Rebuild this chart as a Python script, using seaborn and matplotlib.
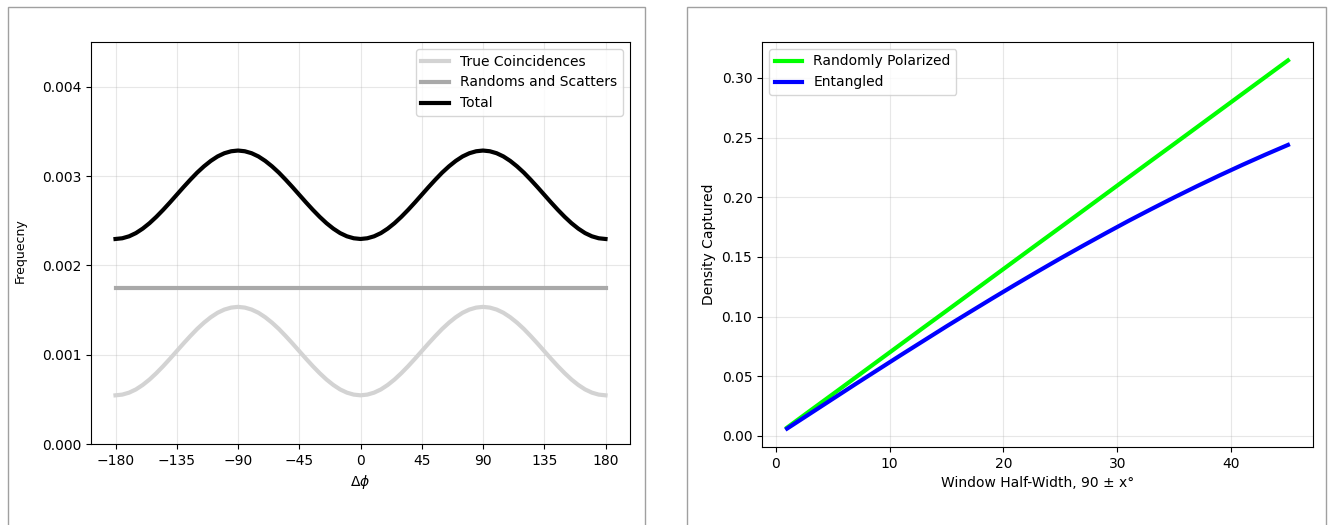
import matplotlib
matplotlib.use("Agg")
import matplotlib.pyplot as plt
import seaborn as sns
import numpy as np

# ---- left panel data (every 5 degrees) ----
dphi = list(range(-180, 181, 5))
true_coinc = [
    0.000545, 0.000553, 0.000575, 0.000611, 0.000661, 0.000722, 0.000793, 0.000871, 0.000954, 0.001040,
    0.001126, 0.001209, 0.001288, 0.001358, 0.001419, 0.001469, 0.001505, 0.001527, 0.001535,
    0.001527, 0.001505, 0.001469, 0.001419, 0.001358, 0.001288, 0.001209, 0.001126, 0.001040,
    0.000954, 0.000871, 0.000793, 0.000722, 0.000661, 0.000611, 0.000575, 0.000553, 0.000545,
    0.000553, 0.000575, 0.000611, 0.000661, 0.000722, 0.000793, 0.000871, 0.000954, 0.001040,
    0.001126, 0.001209, 0.001288, 0.001358, 0.001419, 0.001469, 0.001505, 0.001527, 0.001535,
    0.001527, 0.001505, 0.001469, 0.001419, 0.001358, 0.001288, 0.001209, 0.001126, 0.001040,
    0.000954, 0.000871, 0.000793, 0.000722, 0.000661, 0.000611, 0.000575, 0.000553, 0.000545]
randoms = [0.00175] * len(dphi)
total = [
    0.002295, 0.002303, 0.002325, 0.002361, 0.002411, 0.002472, 0.002543, 0.002621, 0.002704, 0.002790,
    0.002876, 0.002959, 0.003038, 0.003108, 0.003169, 0.003219, 0.003255, 0.003277, 0.003285,
    0.003277, 0.003255, 0.003219, 0.003169, 0.003108, 0.003038, 0.002959, 0.002876, 0.002790,
    0.002704, 0.002621, 0.002543, 0.002472, 0.002411, 0.002361, 0.002325, 0.002303, 0.002295,
    0.002303, 0.002325, 0.002361, 0.002411, 0.002472, 0.002543, 0.002621, 0.002704, 0.002790,
    0.002876, 0.002959, 0.003038, 0.003108, 0.003169, 0.003219, 0.003255, 0.003277, 0.003285,
    0.003277, 0.003255, 0.003219, 0.003169, 0.003108, 0.003038, 0.002959, 0.002876, 0.002790,
    0.002704, 0.002621, 0.002543, 0.002472, 0.002411, 0.002361, 0.002325, 0.002303, 0.002295]

# ---- right panel data ----
half_width = [1, 3, 5, 7, 9, 11, 13, 15, 17, 19, 21, 23,
              25, 27, 29, 31, 33, 35, 37, 39, 41, 43, 45]
random_pol = [0.0070, 0.0210, 0.0349, 0.0489, 0.0629, 0.0769, 0.0909, 0.1048, 0.1188, 0.1328, 0.1468, 0.1608,
              0.1747, 0.1887, 0.2027, 0.2167, 0.2307, 0.2446, 0.2586, 0.2726, 0.2866, 0.3006, 0.3146]
entangled = [0.0062, 0.0186, 0.0310, 0.0434, 0.0556, 0.0678, 0.0798, 0.0918, 0.1035, 0.1151, 0.1265, 0.1377,
             0.1487, 0.1594, 0.1699, 0.1802, 0.1901, 0.1998, 0.2092, 0.2183, 0.2271, 0.2356, 0.2438]

fig = plt.figure(figsize=(13.33, 5.25), dpi=100)

# panel frames
for x0, x1 in [(8, 645), (687, 1326)]:
    fig.add_artist(plt.Rectangle((x0 / 1333, -0.1), (x1 - x0) / 1333, 1.1 - 7.5 / 525,
                                 transform=fig.transFigure, fill=False,
                                 edgecolor='#a0a0a0', lw=1))

# 왼쪽: 위상차 분포
ax1 = fig.add_axes([91 / 1333, 81 / 525, 539 / 1333, 402 / 525])
sns.lineplot(x=dphi, y=true_coinc, ax=ax1, color='lightgray', lw=3, label='True Coincidences')
sns.lineplot(x=dphi, y=randoms, ax=ax1, color='darkgray', lw=3, label='Randoms and Scatters')
sns.lineplot(x=dphi, y=total, ax=ax1, color='black', lw=3, label='Total')
ax1.set_xticks(np.arange(-180, 181, 45))
ax1.set_ylim(0, 0.0045)
ax1.set_yticks([0, 0.001, 0.002, 0.003, 0.004])
ax1.set_xlabel(r'$\Delta\phi$')
ax1.set_ylabel('Frequecny', fontsize=9)
ax1.yaxis.set_label_coords(-0.119, 0.48)
ax1.grid(True, alpha=0.3)
ax1.legend(loc='upper right')

# 오른쪽: 윈도우 폭에 따른 포획 밀도
ax2 = fig.add_axes([762 / 1333, 78 / 525, 551 / 1333, 405 / 525])
sns.lineplot(x=half_width, y=random_pol, ax=ax2, color='lime', lw=3, label='Randomly Polarized')
sns.lineplot(x=half_width, y=entangled, ax=ax2, color='blue', lw=3, label='Entangled')
ax2.set_xlabel('Window Half-Width, 90 ± x°')
ax2.set_ylabel('Density Captured')
ax2.grid(True, alpha=0.3)
ax2.legend(loc='upper left')

fig.savefig('out.png', dpi=100)
